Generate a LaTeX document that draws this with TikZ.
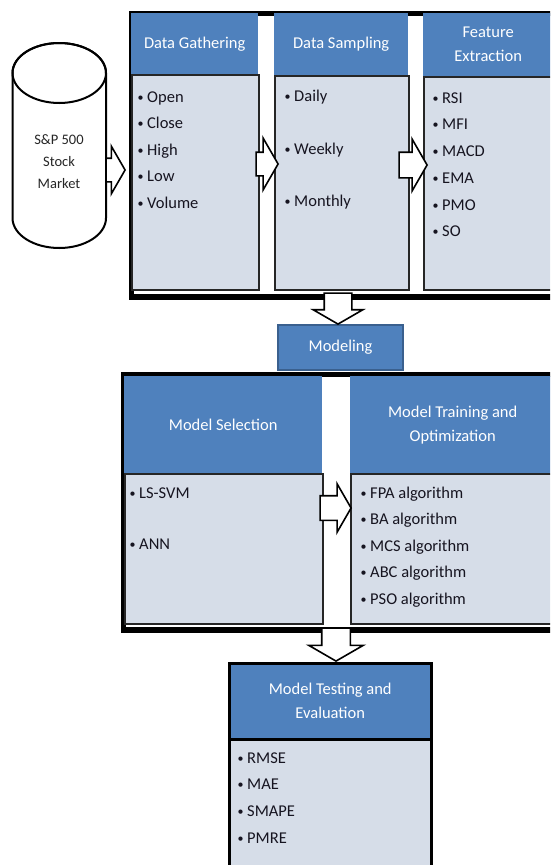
\documentclass[tikz,border=0pt]{standalone}
\usepackage{fontspec}
\setmainfont{Carlito}
\usetikzlibrary{shapes.arrows, positioning}
\usepackage{xcolor}
\definecolor{headblue}{RGB}{79,129,189}
\definecolor{panelgray}{RGB}{214,221,232}
\definecolor{edgeblue}{RGB}{58,96,142}
\definecolor{itemtext}{RGB}{22,20,32}
\newcommand*{\bul}{\makebox[9.5pt][l]{\fontsize{12}{12}\selectfont\raisebox{1pt}{\textbullet}}}

\begin{document}
\begin{tikzpicture}[x=1pt, y=-1pt,
    frame/.style={rectangle, draw=black, line width=5.5pt, fill=white, anchor=north west, inner sep=0},
    head/.style={rectangle, fill=headblue, text=white, anchor=north west, align=center, inner sep=0, font=\fontsize{16.5}{24}\selectfont},
    panel/.style={rectangle, draw=black!85, line width=1.5pt, fill=panelgray, anchor=north west, inner sep=0},
    item/.style={anchor=base west, inner sep=0, text=itemtext, font=\fontsize{16.5}{20}\selectfont},
    fatarrow/.style n args={3}{single arrow, draw=black, fill=white, line width=1.6pt, anchor=tip,
        inner xsep=0, inner ysep=#2/2, minimum height=#1, single arrow head extend=#3, single arrow tip angle=120}]
    \useasboundingbox (0,0) rectangle (550,865);
    \clip (0,0) rectangle (550,865);

    % data source (y runs downwards, so the arcs go the other way round)
    \draw[line width=2pt, fill=white] (12.5,73) -- (12.5,218) arc[start angle=180, end angle=0, x radius=46.75, y radius=30]
        -- (106,73) arc[start angle=360, end angle=180, x radius=46.75, y radius=30] -- cycle;
    \draw[line width=2pt] (59.25,73) ellipse [x radius=46.75, y radius=30];
    \node[align=center, text=black!85, font=\fontsize{14.5}{22}\selectfont] (market) at (59,162) {S\&P 500\\Stock\\Market};

    % first stage: gathering, sampling, features
    \node[frame, minimum width=440, minimum height=283.5] (stage1) at (128.75,10.75) {};
    \node[head, minimum width=127, minimum height=61] (gatherhead) at (131,13) {Data Gathering};
    \node[panel, minimum width=127, minimum height=215] (gather) at (131,74) {};
    \node[head, minimum width=134, minimum height=62] (samplehead) at (274,13) {Data Sampling};
    \node[panel, minimum width=134, minimum height=214] (sample) at (274,75) {};
    \node[head, minimum width=130, minimum height=63] (featurehead) at (423,13) {Feature\\Extraction};
    \node[panel, minimum width=130, minimum height=213] (feature) at (423,76) {};

    \foreach \txt [count=\i] in {Open, Close, High, Low, Volume}
      \node[item] (gather-\i) at (137.5,75.5+26.5*\i) {\bul\txt};
    \foreach \txt [count=\i] in {Daily, Weekly, Monthly}
      \node[item] (sample-\i) at (284.5,49+52.5*\i) {\bul\txt};
    \foreach \txt [count=\i] in {RSI, MFI, MACD, EMA, PMO, SO}
      \node[item] (feature-\i) at (432.5,76.5+26.7*\i) {\bul\txt};

    % modeling
    \node[rectangle, fill=headblue, draw=edgeblue, line width=1.5pt, text=white, minimum width=125, minimum height=45,
      font=\fontsize{16.5}{20}\selectfont] (modeling) at (340.5,347.5) {Modeling};

    \node[frame, minimum width=450, minimum height=255.5] (stage2) at (120.75,371.75) {};
    \node[head, minimum width=198, minimum height=97] (selecthead) at (124,376) {Model Selection};
    \node[panel, minimum width=198, minimum height=150] (select) at (124,473) {};
    \node[head, minimum width=205, minimum height=97] (trainhead) at (350,376) {Model Training and\\Optimization};
    \node[panel, minimum width=205, minimum height=150] (train) at (350,473) {};

    \foreach \txt [count=\i] in {LS-SVM, ANN}
      \node[item] (select-\i) at (129.5,447.5+51*\i) {\bul\txt};
    \foreach \txt [count=\i] in {FPA algorithm, BA algorithm, MCS algorithm, ABC algorithm, PSO algorithm}
      \node[item] (train-\i) at (360.5,471.5+26.5*\i) {\bul\txt};

    % testing
    \node[head, draw=black, line width=2.5pt, minimum width=202, minimum height=76] (testhead) at (228,662) {Model Testing and\\Evaluation};
    \node[panel, draw=black, line width=2.5pt, minimum width=202, minimum height=140] (test) at (228,738) {};
    \foreach \txt [count=\i] in {RMSE, MAE, SMAPE, PMRE}
      \node[item] (test-\i) at (237.5,736.3+26.7*\i) {\bul\txt};

    % block arrows
    \node[fatarrow={19}{22}{12}] (toGather) at (126,170) {};
    \node[fatarrow={22}{22}{14}] (toSample) at (279,164) {};
    \node[fatarrow={28}{24}{13}] (toFeature) at (428,165) {};
    \node[fatarrow={31}{26}{11}, rotate=-90] (toModeling) at (338,325) {};
    \node[fatarrow={31}{23}{12}] (toTrain) at (352,508) {};
    \node[fatarrow={33}{27}{13}, rotate=-90] (toTest) at (336,662) {};
\end{tikzpicture}
\end{document}
